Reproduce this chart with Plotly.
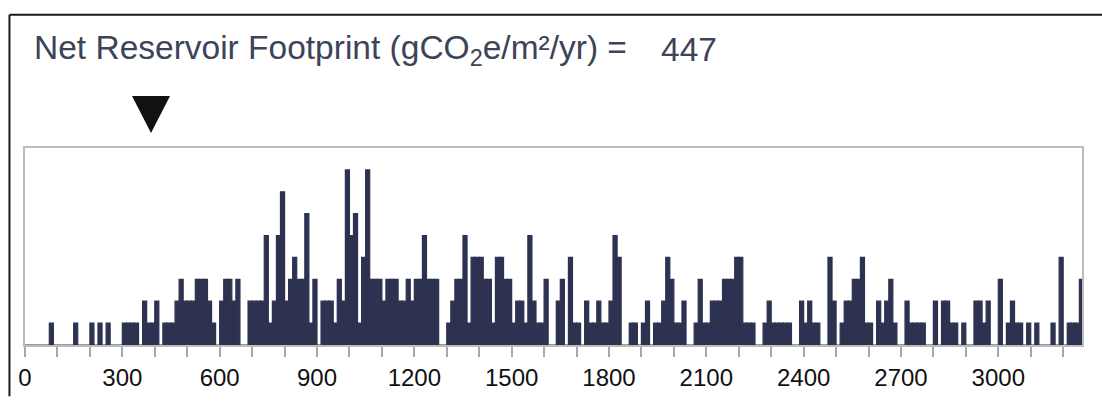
import plotly.graph_objects as go

# Histogram of net reservoir footprint (gCO2e/m2/yr), 12.5-wide bins starting at 0
bin_width = 12.5
counts = [
    0, 0, 0, 0, 0, 0, 1, 0, 0, 0, 0, 0, 1, 0, 0, 0, 1, 0, 1, 0,
    1, 0, 0, 0, 1, 1, 1, 1, 0, 2, 1, 1, 2, 0, 1, 1, 1, 2, 3, 2,
    2, 2, 3, 3, 3, 2, 1, 0, 2, 3, 3, 2, 3, 0, 0, 2, 2, 2, 2, 5,
    1, 2, 5, 7, 2, 3, 4, 3, 3, 6, 1, 3, 0, 2, 2, 2, 1, 3, 2, 8,
    5, 6, 1, 4, 8, 3, 3, 3, 2, 3, 3, 3, 2, 2, 3, 2, 3, 3, 5, 3,
    3, 3, 0, 0, 1, 2, 3, 3, 5, 1, 4, 4, 4, 3, 3, 1, 4, 4, 3, 3,
    1, 2, 2, 1, 5, 2, 1, 1, 3, 0, 0, 2, 3, 0, 4, 1, 1, 0, 2, 1,
    1, 2, 1, 1, 2, 5, 4, 0, 0, 1, 1, 0, 1, 2, 0, 1, 1, 2, 4, 3,
    1, 1, 2, 0, 0, 1, 3, 1, 1, 2, 2, 2, 3, 3, 3, 4, 4, 1, 1, 1,
    0, 0, 1, 2, 1, 1, 1, 1, 1, 0, 0, 2, 1, 2, 1, 1, 0, 0, 4, 2,
    0, 1, 2, 2, 3, 3, 4, 1, 1, 0, 2, 1, 2, 3, 1, 0, 0, 2, 1, 1,
    1, 1, 0, 0, 2, 0, 2, 2, 1, 1, 0, 1, 0, 0, 2, 2, 1, 2, 0, 0,
    3, 0, 1, 2, 1, 1, 0, 1, 0, 1, 0, 0, 0, 1, 0, 4, 0, 1, 1, 1,
    3,
]
bin_starts = [i * bin_width for i in range(len(counts))]

x_max = 3258
major_ticks = [0, 300, 600, 900, 1200, 1500, 1800, 2100, 2400, 2700, 3000]
major_labels = ["0", "300", "600", "900", "1200", "1500", "1800", "2100",
                "2400", "2700", "3000"]
minor_ticks = list(range(0, 3300, 100))

net_footprint = 447

bar_color = "#2d3251"
text_color = "#3d4358"
frame_gray = "#bcbcbc"
tick_gray = "#a8a8a8"
font_family = "Liberation Sans, Arial, Helvetica, sans-serif"

fig = go.Figure(
    go.Bar(
        x=bin_starts,
        y=counts,
        width=bin_width,
        offset=0,
        # outline in the fill colour closes the hairline seams between bins
        marker=dict(color=bar_color, line=dict(color=bar_color, width=1.2)),
        hoverinfo="skip",
    )
)

fig.update_layout(
    width=1102,
    height=403,
    margin=dict(l=25, r=20, t=148, b=51),
    paper_bgcolor="white",
    plot_bgcolor="white",
    showlegend=False,
    font=dict(family=font_family, color="#111111"),
    xaxis=dict(
        range=[0, x_max],
        tickvals=major_ticks,
        ticktext=major_labels,
        ticks="outside",
        ticklen=10,
        tickwidth=1.5,
        tickcolor=tick_gray,
        tickfont=dict(size=24, color="#111111"),
        minor=dict(
            tickvals=minor_ticks,
            ticks="outside",
            ticklen=10,
            tickwidth=1.5,
            tickcolor=tick_gray,
            showgrid=False,
        ),
        showgrid=False,
        zeroline=False,
        showline=True,
        linecolor=frame_gray,
        linewidth=2,
        mirror=True,
    ),
    yaxis=dict(
        range=[0, 9],
        showticklabels=False,
        ticks="",
        showgrid=False,
        zeroline=False,
        showline=True,
        linecolor=frame_gray,
        linewidth=2,
        mirror=True,
    ),
)

# Title line with the footprint value
fig.add_annotation(
    text="Net Reservoir Footprint (gCO<sub>2</sub>e/m²/yr) =",
    xref="paper", yref="paper",
    x=0.0068, y=1.50,
    xanchor="left", yanchor="middle",
    showarrow=False,
    font=dict(size=33.5, color=text_color, family=font_family),
)
fig.add_annotation(
    text=str(net_footprint),
    xref="paper", yref="paper",
    x=0.5995, y=1.50,
    xanchor="left", yanchor="middle",
    showarrow=False,
    font=dict(size=33.5, color=text_color, family=font_family),
)

# Downward marker pointing at the footprint value on the x axis
fig.add_shape(
    type="path",
    xref="x", yref="paper",
    xsizemode="pixel", ysizemode="pixel",
    xanchor=net_footprint, yanchor=1,
    path="M-38,52 L0,52 L-19,15 Z",
    fillcolor="#111111",
    line=dict(width=0),
)

# Outer frame: left and top edges
fig.add_shape(
    type="line", xref="paper", yref="paper",
    x0=-0.0147, x1=-0.0147, y0=-0.26, y1=1.676,
    line=dict(color="#1a1a1a", width=2),
)
fig.add_shape(
    type="line", xref="paper", yref="paper",
    x0=-0.0147, x1=1.03, y0=1.676, y1=1.676,
    line=dict(color="#1a1a1a", width=2),
)

fig.write_html("out.html")
